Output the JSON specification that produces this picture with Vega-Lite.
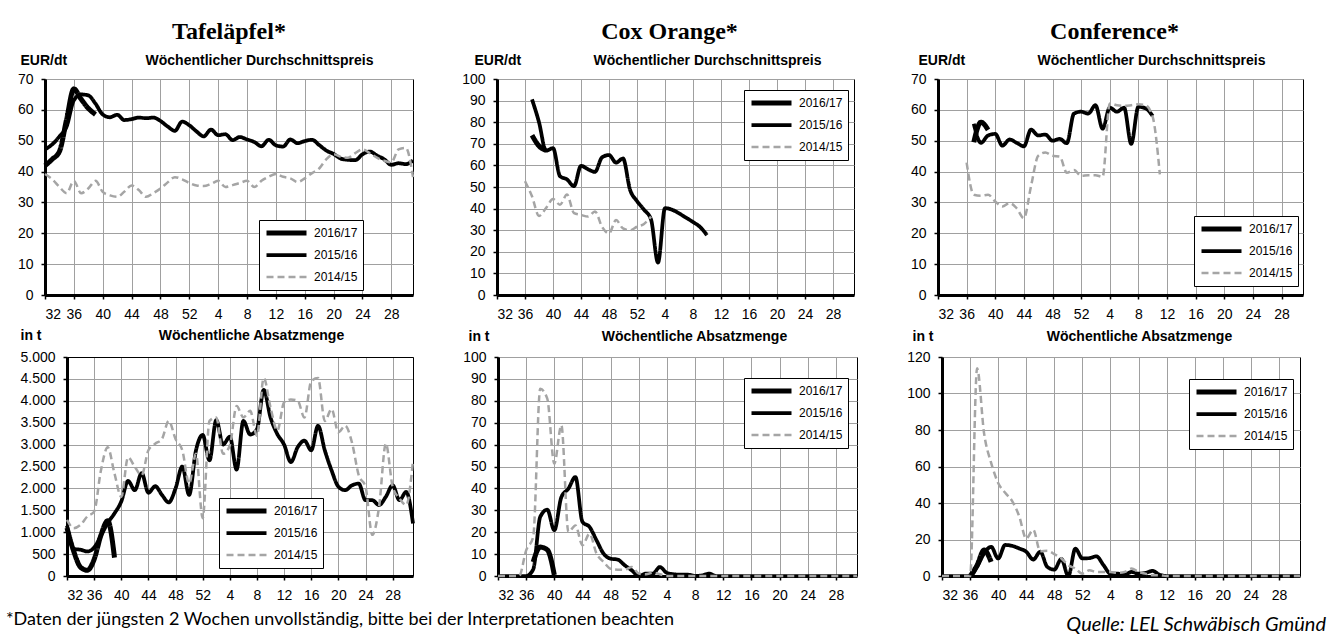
{
"$schema": "https://vega.github.io/schema/vega-lite/v6.json",
"padding": {"left": 5, "top": 19, "right": 5, "bottom": 5},
"background": "white",
"spacing": 6,
"title": {"text": "*Daten der jüngsten 2 Wochen unvollständig, bitte bei der Interpretationen beachten", "orient": "bottom", "anchor": "start", "frame": "bounds", "dx": -11, "offset": 0, "dy": -25, "font": "Lato", "fontSize": 18, "fontWeight": "normal", "color": "black"},
"resolve": {"scale": {"color": "independent", "strokeWidth": "independent", "strokeDash": "independent"}, "legend": {"color": "independent", "strokeWidth": "independent", "strokeDash": "independent"}},
"config": {
 "font": "Liberation Sans",
 "view": {"stroke": "black", "strokeWidth": 1},
 "axis": {"labelFont": "Liberation Sans", "labelFontSize": 14, "labelColor": "black", "labelPadding": 8, "gridColor": "#a0a0a0", "gridWidth": 1, "gridOpacity": 1, "domainColor": "black", "domainWidth": 3, "tickColor": "black", "tickSize": 4, "tickWidth": 1.5, "titleFont": "Liberation Sans", "titleFontSize": 14, "titleFontWeight": "bold", "titleColor": "black"},
 "legend": {"strokeColor": "black", "strokeWidth": 1, "fillColor": "white", "padding": 5, "labelFont": "Liberation Sans", "labelFontSize": 12, "labelColor": "black", "symbolType": "stroke", "symbolSize": 1600, "labelOffset": 5, "rowPadding": 6, "clipHeight": 16},
 "title": {"font": "Liberation Serif", "fontSize": 24, "fontWeight": "bold", "color": "black", "anchor": "middle", "frame": "group", "offset": 9}
},
"datasets": {
 "tafel_preis": [
  {"saison":"2016/17","woche":0,"wert":41.9},{"saison":"2016/17","woche":1,"wert":44},{"saison":"2016/17","woche":2,"wert":46.5},{"saison":"2016/17","woche":3,"wert":57},{"saison":"2016/17","woche":4,"wert":66.8},{"saison":"2016/17","woche":5,"wert":63.5},{"saison":"2016/17","woche":6,"wert":60.5},{"saison":"2016/17","woche":7,"wert":58.5},
  {"saison":"2015/16","woche":0,"wert":47.2},{"saison":"2015/16","woche":1,"wert":48.8},{"saison":"2015/16","woche":2,"wert":51.4},{"saison":"2015/16","woche":3,"wert":54.6},{"saison":"2015/16","woche":4,"wert":63.1},{"saison":"2015/16","woche":5,"wert":65},{"saison":"2015/16","woche":6,"wert":64.7},{"saison":"2015/16","woche":7,"wert":62},{"saison":"2015/16","woche":8,"wert":58.5},{"saison":"2015/16","woche":9,"wert":57.6},{"saison":"2015/16","woche":10,"wert":58.4},{"saison":"2015/16","woche":11,"wert":56.7},{"saison":"2015/16","woche":12,"wert":57},{"saison":"2015/16","woche":13,"wert":57.5},{"saison":"2015/16","woche":14,"wert":57.3},{"saison":"2015/16","woche":15,"wert":57.5},{"saison":"2015/16","woche":16,"wert":56.4},{"saison":"2015/16","woche":17,"wert":54.6},{"saison":"2015/16","woche":18,"wert":53.2},{"saison":"2015/16","woche":19,"wert":56.2},{"saison":"2015/16","woche":20,"wert":55},{"saison":"2015/16","woche":21,"wert":53},{"saison":"2015/16","woche":22,"wert":51.4},{"saison":"2015/16","woche":23,"wert":53.6},{"saison":"2015/16","woche":24,"wert":51.8},{"saison":"2015/16","woche":25,"wert":52.1},{"saison":"2015/16","woche":26,"wert":50.2},{"saison":"2015/16","woche":27,"wert":51.2},{"saison":"2015/16","woche":28,"wert":50.4},{"saison":"2015/16","woche":29,"wert":49.6},{"saison":"2015/16","woche":30,"wert":48.2},{"saison":"2015/16","woche":31,"wert":50.3},{"saison":"2015/16","woche":32,"wert":48.5},{"saison":"2015/16","woche":33,"wert":48.1},{"saison":"2015/16","woche":34,"wert":50.4},{"saison":"2015/16","woche":35,"wert":49.2},{"saison":"2015/16","woche":36,"wert":49.9},{"saison":"2015/16","woche":37,"wert":50.3},{"saison":"2015/16","woche":38,"wert":48.6},{"saison":"2015/16","woche":39,"wert":46.8},{"saison":"2015/16","woche":40,"wert":45.7},{"saison":"2015/16","woche":41,"wert":44.2},{"saison":"2015/16","woche":42,"wert":43.8},{"saison":"2015/16","woche":43,"wert":43.7},{"saison":"2015/16","woche":44,"wert":45.6},{"saison":"2015/16","woche":45,"wert":46.5},{"saison":"2015/16","woche":46,"wert":45.2},{"saison":"2015/16","woche":47,"wert":44},{"saison":"2015/16","woche":48,"wert":42.2},{"saison":"2015/16","woche":49,"wert":42.7},{"saison":"2015/16","woche":50,"wert":42.4},{"saison":"2015/16","woche":51,"wert":43.6},
  {"saison":"2014/15","woche":0,"wert":39.2},{"saison":"2014/15","woche":1,"wert":37.5},{"saison":"2014/15","woche":2,"wert":35},{"saison":"2014/15","woche":3,"wert":33},{"saison":"2014/15","woche":4,"wert":37},{"saison":"2014/15","woche":5,"wert":33},{"saison":"2014/15","woche":6,"wert":34.5},{"saison":"2014/15","woche":7,"wert":37},{"saison":"2014/15","woche":8,"wert":33.4},{"saison":"2014/15","woche":9,"wert":32.3},{"saison":"2014/15","woche":10,"wert":31.8},{"saison":"2014/15","woche":11,"wert":33.5},{"saison":"2014/15","woche":12,"wert":35.5},{"saison":"2014/15","woche":13,"wert":34},{"saison":"2014/15","woche":14,"wert":31.8},{"saison":"2014/15","woche":15,"wert":33},{"saison":"2014/15","woche":16,"wert":34.5},{"saison":"2014/15","woche":17,"wert":36.5},{"saison":"2014/15","woche":18,"wert":38.2},{"saison":"2014/15","woche":19,"wert":37.5},{"saison":"2014/15","woche":20,"wert":36.3},{"saison":"2014/15","woche":21,"wert":35.5},{"saison":"2014/15","woche":22,"wert":35.3},{"saison":"2014/15","woche":23,"wert":36},{"saison":"2014/15","woche":24,"wert":37},{"saison":"2014/15","woche":25,"wert":35},{"saison":"2014/15","woche":26,"wert":35.6},{"saison":"2014/15","woche":27,"wert":36.3},{"saison":"2014/15","woche":28,"wert":37},{"saison":"2014/15","woche":29,"wert":35},{"saison":"2014/15","woche":30,"wert":37},{"saison":"2014/15","woche":31,"wert":38.3},{"saison":"2014/15","woche":32,"wert":39.2},{"saison":"2014/15","woche":33,"wert":38.3},{"saison":"2014/15","woche":34,"wert":37.8},{"saison":"2014/15","woche":35,"wert":36.6},{"saison":"2014/15","woche":36,"wert":37.8},{"saison":"2014/15","woche":37,"wert":39.5},{"saison":"2014/15","woche":38,"wert":41},{"saison":"2014/15","woche":39,"wert":44},{"saison":"2014/15","woche":40,"wert":45.6},{"saison":"2014/15","woche":41,"wert":44.8},{"saison":"2014/15","woche":42,"wert":44.5},{"saison":"2014/15","woche":43,"wert":46},{"saison":"2014/15","woche":44,"wert":47.2},{"saison":"2014/15","woche":45,"wert":46},{"saison":"2014/15","woche":46,"wert":44.5},{"saison":"2014/15","woche":47,"wert":43.5},{"saison":"2014/15","woche":48,"wert":43},{"saison":"2014/15","woche":49,"wert":47.2},{"saison":"2014/15","woche":50,"wert":47.7},{"saison":"2014/15","woche":51,"wert":38.2}
 ],
 "cox_preis": [
  {"saison":"2016/17","woche":5,"wert":74},{"saison":"2016/17","woche":6,"wert":69},{"saison":"2016/17","woche":7,"wert":67},
  {"saison":"2015/16","woche":5,"wert":90.6},{"saison":"2015/16","woche":6,"wert":80},{"saison":"2015/16","woche":7,"wert":66.8},{"saison":"2015/16","woche":8,"wert":68},{"saison":"2015/16","woche":9,"wert":55},{"saison":"2015/16","woche":10,"wert":53.5},{"saison":"2015/16","woche":11,"wert":50.4},{"saison":"2015/16","woche":12,"wert":59.8},{"saison":"2015/16","woche":13,"wert":58.2},{"saison":"2015/16","woche":14,"wert":57},{"saison":"2015/16","woche":15,"wert":63.7},{"saison":"2015/16","woche":16,"wert":64.8},{"saison":"2015/16","woche":17,"wert":61.3},{"saison":"2015/16","woche":18,"wert":63.2},{"saison":"2015/16","woche":19,"wert":48.8},{"saison":"2015/16","woche":20,"wert":43.5},{"saison":"2015/16","woche":21,"wert":39.5},{"saison":"2015/16","woche":22,"wert":35},{"saison":"2015/16","woche":23,"wert":15},{"saison":"2015/16","woche":24,"wert":40.2},{"saison":"2015/16","woche":25,"wert":39.5},{"saison":"2015/16","woche":26,"wert":37.8},{"saison":"2015/16","woche":27,"wert":35.8},{"saison":"2015/16","woche":28,"wert":33.8},{"saison":"2015/16","woche":29,"wert":31.5},{"saison":"2015/16","woche":30,"wert":27.7},
  {"saison":"2014/15","woche":4,"wert":52.7},{"saison":"2014/15","woche":5,"wert":45.7},{"saison":"2014/15","woche":6,"wert":36.6},{"saison":"2014/15","woche":7,"wert":40.2},{"saison":"2014/15","woche":8,"wert":44.4},{"saison":"2014/15","woche":9,"wert":41.8},{"saison":"2014/15","woche":10,"wert":46.5},{"saison":"2014/15","woche":11,"wert":37.9},{"saison":"2014/15","woche":12,"wert":37.1},{"saison":"2014/15","woche":13,"wert":36.3},{"saison":"2014/15","woche":14,"wert":38.7},{"saison":"2014/15","woche":15,"wert":31.6},{"saison":"2014/15","woche":16,"wert":28.5},{"saison":"2014/15","woche":17,"wert":34.7},{"saison":"2014/15","woche":18,"wert":30.8},{"saison":"2014/15","woche":19,"wert":30},{"saison":"2014/15","woche":20,"wert":31.6},{"saison":"2014/15","woche":21,"wert":32.9},{"saison":"2014/15","woche":22,"wert":36.3}
 ],
 "conf_preis": [
  {"saison":"2016/17","woche":5,"wert":49.5},{"saison":"2016/17","woche":6,"wert":56},{"saison":"2016/17","woche":7,"wert":53.5},
  {"saison":"2015/16","woche":5,"wert":55.5},{"saison":"2015/16","woche":6,"wert":49.3},{"saison":"2015/16","woche":7,"wert":51.7},{"saison":"2015/16","woche":8,"wert":52.2},{"saison":"2015/16","woche":9,"wert":48.4},{"saison":"2015/16","woche":10,"wert":50.4},{"saison":"2015/16","woche":11,"wert":49.3},{"saison":"2015/16","woche":12,"wert":48.2},{"saison":"2015/16","woche":13,"wert":53.6},{"saison":"2015/16","woche":14,"wert":51.7},{"saison":"2015/16","woche":15,"wert":52},{"saison":"2015/16","woche":16,"wert":50},{"saison":"2015/16","woche":17,"wert":50.6},{"saison":"2015/16","woche":18,"wert":49.2},{"saison":"2015/16","woche":19,"wert":58.8},{"saison":"2015/16","woche":20,"wert":59.4},{"saison":"2015/16","woche":21,"wert":58.8},{"saison":"2015/16","woche":22,"wert":61.5},{"saison":"2015/16","woche":23,"wert":53.9},{"saison":"2015/16","woche":24,"wert":60.7},{"saison":"2015/16","woche":25,"wert":59.4},{"saison":"2015/16","woche":26,"wert":60.7},{"saison":"2015/16","woche":27,"wert":49},{"saison":"2015/16","woche":28,"wert":61},{"saison":"2015/16","woche":29,"wert":60.5},{"saison":"2015/16","woche":30,"wert":58},
  {"saison":"2014/15","woche":4,"wert":42.9},{"saison":"2014/15","woche":5,"wert":32.5},{"saison":"2014/15","woche":6,"wert":32.2},{"saison":"2014/15","woche":7,"wert":32.5},{"saison":"2014/15","woche":8,"wert":30.3},{"saison":"2014/15","woche":9,"wert":28.7},{"saison":"2014/15","woche":10,"wert":29.8},{"saison":"2014/15","woche":11,"wert":28.1},{"saison":"2014/15","woche":12,"wert":24.9},{"saison":"2014/15","woche":13,"wert":35.3},{"saison":"2014/15","woche":14,"wert":45.1},{"saison":"2014/15","woche":15,"wert":46.2},{"saison":"2014/15","woche":16,"wert":45.1},{"saison":"2014/15","woche":17,"wert":44.9},{"saison":"2014/15","woche":18,"wert":39.6},{"saison":"2014/15","woche":19,"wert":40.5},{"saison":"2014/15","woche":20,"wert":38.6},{"saison":"2014/15","woche":21,"wert":38.8},{"saison":"2014/15","woche":22,"wert":38.8},{"saison":"2014/15","woche":23,"wert":38.3},{"saison":"2014/15","woche":24,"wert":62.1},{"saison":"2014/15","woche":25,"wert":61.5},{"saison":"2014/15","woche":26,"wert":61.3},{"saison":"2014/15","woche":27,"wert":61.5},{"saison":"2014/15","woche":28,"wert":61.8},{"saison":"2014/15","woche":29,"wert":61.5},{"saison":"2014/15","woche":30,"wert":57.7},{"saison":"2014/15","woche":31,"wert":39.1}
 ],
 "tafel_menge": [
  {"saison":"2016/17","woche":0,"wert":1100},{"saison":"2016/17","woche":1,"wert":560},{"saison":"2016/17","woche":2,"wert":200},{"saison":"2016/17","woche":3,"wert":130},{"saison":"2016/17","woche":4,"wert":380},{"saison":"2016/17","woche":5,"wert":930},{"saison":"2016/17","woche":6,"wert":1260},{"saison":"2016/17","woche":7,"wert":420},
  {"saison":"2015/16","woche":0,"wert":1150},{"saison":"2015/16","woche":1,"wert":620},{"saison":"2015/16","woche":2,"wert":600},{"saison":"2015/16","woche":3,"wert":560},{"saison":"2015/16","woche":4,"wert":650},{"saison":"2015/16","woche":5,"wert":920},{"saison":"2015/16","woche":6,"wert":1210},{"saison":"2015/16","woche":7,"wert":1430},{"saison":"2015/16","woche":8,"wert":1700},{"saison":"2015/16","woche":9,"wert":2170},{"saison":"2015/16","woche":10,"wert":1960},{"saison":"2015/16","woche":11,"wert":2350},{"saison":"2015/16","woche":12,"wert":1900},{"saison":"2015/16","woche":13,"wert":2050},{"saison":"2015/16","woche":14,"wert":1850},{"saison":"2015/16","woche":15,"wert":1680},{"saison":"2015/16","woche":16,"wert":2000},{"saison":"2015/16","woche":17,"wert":2500},{"saison":"2015/16","woche":18,"wert":1850},{"saison":"2015/16","woche":19,"wert":2860},{"saison":"2015/16","woche":20,"wert":3220},{"saison":"2015/16","woche":21,"wert":2640},{"saison":"2015/16","woche":22,"wert":3560},{"saison":"2015/16","woche":23,"wert":3000},{"saison":"2015/16","woche":24,"wert":3180},{"saison":"2015/16","woche":25,"wert":2430},{"saison":"2015/16","woche":26,"wert":3540},{"saison":"2015/16","woche":27,"wert":3230},{"saison":"2015/16","woche":28,"wert":3350},{"saison":"2015/16","woche":29,"wert":4250},{"saison":"2015/16","woche":30,"wert":3620},{"saison":"2015/16","woche":31,"wert":3240},{"saison":"2015/16","woche":32,"wert":3000},{"saison":"2015/16","woche":33,"wert":2600},{"saison":"2015/16","woche":34,"wert":2940},{"saison":"2015/16","woche":35,"wert":3090},{"saison":"2015/16","woche":36,"wert":2870},{"saison":"2015/16","woche":37,"wert":3430},{"saison":"2015/16","woche":38,"wert":2870},{"saison":"2015/16","woche":39,"wert":2410},{"saison":"2015/16","woche":40,"wert":2040},{"saison":"2015/16","woche":41,"wert":1960},{"saison":"2015/16","woche":42,"wert":2070},{"saison":"2015/16","woche":43,"wert":2110},{"saison":"2015/16","woche":44,"wert":1730},{"saison":"2015/16","woche":45,"wert":1730},{"saison":"2015/16","woche":46,"wert":1620},{"saison":"2015/16","woche":47,"wert":1810},{"saison":"2015/16","woche":48,"wert":2070},{"saison":"2015/16","woche":49,"wert":1730},{"saison":"2015/16","woche":50,"wert":1920},{"saison":"2015/16","woche":51,"wert":1200},
  {"saison":"2014/15","woche":0,"wert":1280},{"saison":"2014/15","woche":1,"wert":1090},{"saison":"2014/15","woche":2,"wert":1170},{"saison":"2014/15","woche":3,"wert":1360},{"saison":"2014/15","woche":4,"wert":1470},{"saison":"2014/15","woche":5,"wert":2410},{"saison":"2014/15","woche":6,"wert":2940},{"saison":"2014/15","woche":7,"wert":2340},{"saison":"2014/15","woche":8,"wert":1810},{"saison":"2014/15","woche":9,"wert":2710},{"saison":"2014/15","woche":10,"wert":2490},{"saison":"2014/15","woche":11,"wert":2300},{"saison":"2014/15","woche":12,"wert":2870},{"saison":"2014/15","woche":13,"wert":3020},{"saison":"2014/15","woche":14,"wert":3130},{"saison":"2014/15","woche":15,"wert":3540},{"saison":"2014/15","woche":16,"wert":3130},{"saison":"2014/15","woche":17,"wert":2870},{"saison":"2014/15","woche":18,"wert":2110},{"saison":"2014/15","woche":19,"wert":2790},{"saison":"2014/15","woche":20,"wert":1320},{"saison":"2014/15","woche":21,"wert":3540},{"saison":"2014/15","woche":22,"wert":3620},{"saison":"2014/15","woche":23,"wert":2790},{"saison":"2014/15","woche":24,"wert":2980},{"saison":"2014/15","woche":25,"wert":3880},{"saison":"2014/15","woche":26,"wert":3620},{"saison":"2014/15","woche":27,"wert":3770},{"saison":"2014/15","woche":28,"wert":3200},{"saison":"2014/15","woche":29,"wert":4520},{"saison":"2014/15","woche":30,"wert":3850},{"saison":"2014/15","woche":31,"wert":3320},{"saison":"2014/15","woche":32,"wert":3960},{"saison":"2014/15","woche":33,"wert":4030},{"saison":"2014/15","woche":34,"wert":4000},{"saison":"2014/15","woche":35,"wert":3620},{"saison":"2014/15","woche":36,"wert":4450},{"saison":"2014/15","woche":37,"wert":4520},{"saison":"2014/15","woche":38,"wert":3540},{"saison":"2014/15","woche":39,"wert":3810},{"saison":"2014/15","woche":40,"wert":3280},{"saison":"2014/15","woche":41,"wert":3430},{"saison":"2014/15","woche":42,"wert":3050},{"saison":"2014/15","woche":43,"wert":2300},{"saison":"2014/15","woche":44,"wert":2040},{"saison":"2014/15","woche":45,"wert":940},{"saison":"2014/15","woche":46,"wert":1580},{"saison":"2014/15","woche":47,"wert":3020},{"saison":"2014/15","woche":48,"wert":2040},{"saison":"2014/15","woche":49,"wert":1770},{"saison":"2014/15","woche":50,"wert":1620},{"saison":"2014/15","woche":51,"wert":2640}
 ],
 "cox_menge": [
  {"saison":"2016/17","woche":5,"wert":6.4},{"saison":"2016/17","woche":6,"wert":13.2},{"saison":"2016/17","woche":7,"wert":12},{"saison":"2016/17","woche":8,"wert":0.5},
  {"saison":"2015/16","woche":0,"wert":0},{"saison":"2015/16","woche":1,"wert":0},{"saison":"2015/16","woche":2,"wert":0},{"saison":"2015/16","woche":3,"wert":0},{"saison":"2015/16","woche":4,"wert":0},{"saison":"2015/16","woche":5,"wert":3},{"saison":"2015/16","woche":6,"wert":27},{"saison":"2015/16","woche":7,"wert":30.3},{"saison":"2015/16","woche":8,"wert":20.9},{"saison":"2015/16","woche":9,"wert":36},{"saison":"2015/16","woche":10,"wert":39.9},{"saison":"2015/16","woche":11,"wert":45.2},{"saison":"2015/16","woche":12,"wert":24.7},{"saison":"2015/16","woche":13,"wert":22.4},{"saison":"2015/16","woche":14,"wert":16.3},{"saison":"2015/16","woche":15,"wert":10.2},{"saison":"2015/16","woche":16,"wert":7.9},{"saison":"2015/16","woche":17,"wert":7.5},{"saison":"2015/16","woche":18,"wert":4.9},{"saison":"2015/16","woche":19,"wert":2.6},{"saison":"2015/16","woche":20,"wert":0},{"saison":"2015/16","woche":21,"wert":1.1},{"saison":"2015/16","woche":22,"wert":1.1},{"saison":"2015/16","woche":23,"wert":4.1},{"saison":"2015/16","woche":24,"wert":1.4},{"saison":"2015/16","woche":25,"wert":0.8},{"saison":"2015/16","woche":26,"wert":0.6},{"saison":"2015/16","woche":27,"wert":0.6},{"saison":"2015/16","woche":28,"wert":0},{"saison":"2015/16","woche":29,"wert":0.3},{"saison":"2015/16","woche":30,"wert":1.1},{"saison":"2015/16","woche":31,"wert":0},{"saison":"2015/16","woche":32,"wert":0},{"saison":"2015/16","woche":33,"wert":0},{"saison":"2015/16","woche":34,"wert":0},{"saison":"2015/16","woche":35,"wert":0},{"saison":"2015/16","woche":36,"wert":0},{"saison":"2015/16","woche":37,"wert":0},{"saison":"2015/16","woche":38,"wert":0},{"saison":"2015/16","woche":39,"wert":0},{"saison":"2015/16","woche":40,"wert":0},{"saison":"2015/16","woche":41,"wert":0},{"saison":"2015/16","woche":42,"wert":0},{"saison":"2015/16","woche":43,"wert":0},{"saison":"2015/16","woche":44,"wert":0},{"saison":"2015/16","woche":45,"wert":0},{"saison":"2015/16","woche":46,"wert":0},{"saison":"2015/16","woche":47,"wert":0},{"saison":"2015/16","woche":48,"wert":0},{"saison":"2015/16","woche":49,"wert":0},{"saison":"2015/16","woche":50,"wert":0},{"saison":"2015/16","woche":51,"wert":0},
  {"saison":"2014/15","woche":0,"wert":0},{"saison":"2014/15","woche":1,"wert":0},{"saison":"2014/15","woche":2,"wert":0},{"saison":"2014/15","woche":3,"wert":0},{"saison":"2014/15","woche":4,"wert":11.7},{"saison":"2014/15","woche":5,"wert":17.8},{"saison":"2014/15","woche":6,"wert":85.5},{"saison":"2014/15","woche":7,"wert":81},{"saison":"2014/15","woche":8,"wert":51.3},{"saison":"2014/15","woche":9,"wert":68.8},{"saison":"2014/15","woche":10,"wert":20.1},{"saison":"2014/15","woche":11,"wert":23.1},{"saison":"2014/15","woche":12,"wert":14},{"saison":"2014/15","woche":13,"wert":19.3},{"saison":"2014/15","woche":14,"wert":10.2},{"saison":"2014/15","woche":15,"wert":6.4},{"saison":"2014/15","woche":16,"wert":3.3},{"saison":"2014/15","woche":17,"wert":2.9},{"saison":"2014/15","woche":18,"wert":2.9},{"saison":"2014/15","woche":19,"wert":4.1},{"saison":"2014/15","woche":20,"wert":1.1},{"saison":"2014/15","woche":21,"wert":0.8},{"saison":"2014/15","woche":22,"wert":1.5},{"saison":"2014/15","woche":23,"wert":0.8},{"saison":"2014/15","woche":24,"wert":0},{"saison":"2014/15","woche":25,"wert":0},{"saison":"2014/15","woche":26,"wert":0},{"saison":"2014/15","woche":27,"wert":0},{"saison":"2014/15","woche":28,"wert":0},{"saison":"2014/15","woche":29,"wert":0},{"saison":"2014/15","woche":30,"wert":0},{"saison":"2014/15","woche":31,"wert":0},{"saison":"2014/15","woche":32,"wert":0},{"saison":"2014/15","woche":33,"wert":0},{"saison":"2014/15","woche":34,"wert":0},{"saison":"2014/15","woche":35,"wert":0},{"saison":"2014/15","woche":36,"wert":0},{"saison":"2014/15","woche":37,"wert":0},{"saison":"2014/15","woche":38,"wert":0},{"saison":"2014/15","woche":39,"wert":0},{"saison":"2014/15","woche":40,"wert":0},{"saison":"2014/15","woche":41,"wert":0},{"saison":"2014/15","woche":42,"wert":0},{"saison":"2014/15","woche":43,"wert":0},{"saison":"2014/15","woche":44,"wert":0},{"saison":"2014/15","woche":45,"wert":0},{"saison":"2014/15","woche":46,"wert":0},{"saison":"2014/15","woche":47,"wert":0},{"saison":"2014/15","woche":48,"wert":0},{"saison":"2014/15","woche":49,"wert":0},{"saison":"2014/15","woche":50,"wert":0},{"saison":"2014/15","woche":51,"wert":0}
 ],
 "conf_menge": [
  {"saison":"2016/17","woche":4,"wert":0},{"saison":"2016/17","woche":5,"wert":5.9},{"saison":"2016/17","woche":6,"wert":14.2},{"saison":"2016/17","woche":7,"wert":7.7},
  {"saison":"2015/16","woche":0,"wert":0},{"saison":"2015/16","woche":1,"wert":0},{"saison":"2015/16","woche":2,"wert":0},{"saison":"2015/16","woche":3,"wert":0},{"saison":"2015/16","woche":4,"wert":0},{"saison":"2015/16","woche":5,"wert":5},{"saison":"2015/16","woche":6,"wert":12.4},{"saison":"2015/16","woche":7,"wert":16},{"saison":"2015/16","woche":8,"wert":9.6},{"saison":"2015/16","woche":9,"wert":17},{"saison":"2015/16","woche":10,"wert":16.5},{"saison":"2015/16","woche":11,"wert":15.1},{"saison":"2015/16","woche":12,"wert":13.3},{"saison":"2015/16","woche":13,"wert":9},{"saison":"2015/16","woche":14,"wert":13.3},{"saison":"2015/16","woche":15,"wert":5},{"saison":"2015/16","woche":16,"wert":3.5},{"saison":"2015/16","woche":17,"wert":9.3},{"saison":"2015/16","woche":18,"wert":0},{"saison":"2015/16","woche":19,"wert":15},{"saison":"2015/16","woche":20,"wert":9.6},{"saison":"2015/16","woche":21,"wert":9.8},{"saison":"2015/16","woche":22,"wert":10.8},{"saison":"2015/16","woche":23,"wert":6},{"saison":"2015/16","woche":24,"wert":1.3},{"saison":"2015/16","woche":25,"wert":1.3},{"saison":"2015/16","woche":26,"wert":0.7},{"saison":"2015/16","woche":27,"wert":2.2},{"saison":"2015/16","woche":28,"wert":1.3},{"saison":"2015/16","woche":29,"wert":1.7},{"saison":"2015/16","woche":30,"wert":2.8},{"saison":"2015/16","woche":31,"wert":0.7},{"saison":"2015/16","woche":32,"wert":0},{"saison":"2015/16","woche":33,"wert":0},{"saison":"2015/16","woche":34,"wert":0},{"saison":"2015/16","woche":35,"wert":0},{"saison":"2015/16","woche":36,"wert":0},{"saison":"2015/16","woche":37,"wert":0},{"saison":"2015/16","woche":38,"wert":0},{"saison":"2015/16","woche":39,"wert":0},{"saison":"2015/16","woche":40,"wert":0},{"saison":"2015/16","woche":41,"wert":0},{"saison":"2015/16","woche":42,"wert":0},{"saison":"2015/16","woche":43,"wert":0},{"saison":"2015/16","woche":44,"wert":0},{"saison":"2015/16","woche":45,"wert":0},{"saison":"2015/16","woche":46,"wert":0},{"saison":"2015/16","woche":47,"wert":0},{"saison":"2015/16","woche":48,"wert":0},{"saison":"2015/16","woche":49,"wert":0},{"saison":"2015/16","woche":50,"wert":0},{"saison":"2015/16","woche":51,"wert":0},
  {"saison":"2014/15","woche":0,"wert":0},{"saison":"2014/15","woche":1,"wert":0},{"saison":"2014/15","woche":2,"wert":0},{"saison":"2014/15","woche":3,"wert":0},{"saison":"2014/15","woche":4,"wert":0},{"saison":"2014/15","woche":5,"wert":113.8},{"saison":"2014/15","woche":6,"wert":78},{"saison":"2014/15","woche":7,"wert":62},{"saison":"2014/15","woche":8,"wert":51},{"saison":"2014/15","woche":9,"wert":45.6},{"saison":"2014/15","woche":10,"wert":41},{"saison":"2014/15","woche":11,"wert":32.7},{"saison":"2014/15","woche":12,"wert":20.5},{"saison":"2014/15","woche":13,"wert":25.3},{"saison":"2014/15","woche":14,"wert":13.5},{"saison":"2014/15","woche":15,"wert":13.8},{"saison":"2014/15","woche":16,"wert":12},{"saison":"2014/15","woche":17,"wert":9.6},{"saison":"2014/15","woche":18,"wert":5.9},{"saison":"2014/15","woche":19,"wert":4.1},{"saison":"2014/15","woche":20,"wert":1.3},{"saison":"2014/15","woche":21,"wert":3.1},{"saison":"2014/15","woche":22,"wert":2.2},{"saison":"2014/15","woche":23,"wert":2.2},{"saison":"2014/15","woche":24,"wert":2.2},{"saison":"2014/15","woche":25,"wert":1.7},{"saison":"2014/15","woche":26,"wert":2.2},{"saison":"2014/15","woche":27,"wert":4.1},{"saison":"2014/15","woche":28,"wert":2.2},{"saison":"2014/15","woche":29,"wert":1.3},{"saison":"2014/15","woche":30,"wert":0.4},{"saison":"2014/15","woche":31,"wert":0.4},{"saison":"2014/15","woche":32,"wert":0},{"saison":"2014/15","woche":33,"wert":0},{"saison":"2014/15","woche":34,"wert":0},{"saison":"2014/15","woche":35,"wert":0},{"saison":"2014/15","woche":36,"wert":0},{"saison":"2014/15","woche":37,"wert":0},{"saison":"2014/15","woche":38,"wert":0},{"saison":"2014/15","woche":39,"wert":0},{"saison":"2014/15","woche":40,"wert":0},{"saison":"2014/15","woche":41,"wert":0},{"saison":"2014/15","woche":42,"wert":0},{"saison":"2014/15","woche":43,"wert":0},{"saison":"2014/15","woche":44,"wert":0},{"saison":"2014/15","woche":45,"wert":0},{"saison":"2014/15","woche":46,"wert":0},{"saison":"2014/15","woche":47,"wert":0},{"saison":"2014/15","woche":48,"wert":0},{"saison":"2014/15","woche":49,"wert":0},{"saison":"2014/15","woche":50,"wert":0},{"saison":"2014/15","woche":51,"wert":0}
 ]
},
"vconcat": [
 {"bounds": "flush", "spacing": 84,
  "resolve": {"scale": {"color": "independent", "strokeWidth": "independent", "strokeDash": "independent"}, "legend": {"color": "independent", "strokeWidth": "independent", "strokeDash": "independent"}},
  "hconcat": [
  {"width": 368, "height": 216, "data": {"name": "tafel_preis"},
   "title": {"text": "Tafeläpfel*"},
   "mark": {"type": "line", "interpolate": "monotone"},
   "encoding": {
    "x": {"field": "woche", "type": "quantitative", "scale": {"domain": [0, 51], "nice": false, "zero": false}, "axis": {"values": [0,4,8,12,16,20,24,28,32,36,40,44,48], "labelExpr": "datum.value <= 20 ? datum.value + 32 : datum.value - 20", "title": "Wöchentlicher Durchschnittspreis", "titleX": 214, "titleY": -231, "titleAlign": "center", "titleBaseline": "alphabetic"}},
    "y": {"field": "wert", "type": "quantitative", "scale": {"domain": [0, 70], "nice": false}, "axis": {"values": [0,10,20,30,40,50,60,70], "title": "EUR/dt", "titleAngle": 0, "titleX": -25, "titleY": -15, "titleAlign": "left", "titleBaseline": "alphabetic"}},
    "color": {"field": "saison", "type": "nominal", "scale": {"domain": ["2016/17","2015/16","2014/15"], "range": ["black","black","#a5a5a5"]}, "legend": {"title": null, "orient": "none", "legendX": 214, "legendY": 141}},
    "strokeWidth": {"field": "saison", "type": "nominal", "scale": {"domain": ["2016/17","2015/16","2014/15"], "range": [5, 2.5, 2.5]}, "legend": {"title": null, "orient": "none", "legendX": 214, "legendY": 141}},
    "strokeDash": {"field": "saison", "type": "nominal", "scale": {"domain": ["2016/17","2015/16","2014/15"], "range": [[1,0],[1,0],[7,4]]}, "legend": {"title": null, "orient": "none", "legendX": 214, "legendY": 141}}
   }},
  {"width": 357, "height": 216, "data": {"name": "cox_preis"},
   "title": {"text": "Cox Orange*", "dx": -6},
   "mark": {"type": "line", "interpolate": "monotone"},
   "encoding": {
    "x": {"field": "woche", "type": "quantitative", "scale": {"domain": [0, 51], "nice": false, "zero": false}, "axis": {"values": [0,4,8,12,16,20,24,28,32,36,40,44,48], "labelExpr": "datum.value <= 20 ? datum.value + 32 : datum.value - 20", "title": "Wöchentlicher Durchschnittspreis", "titleX": 210, "titleY": -231, "titleAlign": "center", "titleBaseline": "alphabetic"}},
    "y": {"field": "wert", "type": "quantitative", "scale": {"domain": [0, 100], "nice": false}, "axis": {"values": [0,10,20,30,40,50,60,70,80,90,100], "title": "EUR/dt", "titleAngle": 0, "titleX": -23, "titleY": -15, "titleAlign": "left", "titleBaseline": "alphabetic"}},
    "color": {"field": "saison", "type": "nominal", "scale": {"domain": ["2016/17","2015/16","2014/15"], "range": ["black","black","#a5a5a5"]}, "legend": {"title": null, "orient": "none", "legendX": 247, "legendY": 11}},
    "strokeWidth": {"field": "saison", "type": "nominal", "scale": {"domain": ["2016/17","2015/16","2014/15"], "range": [5, 2.5, 2.5]}, "legend": {"title": null, "orient": "none", "legendX": 247, "legendY": 11}},
    "strokeDash": {"field": "saison", "type": "nominal", "scale": {"domain": ["2016/17","2015/16","2014/15"], "range": [[1,0],[1,0],[7,4]]}, "legend": {"title": null, "orient": "none", "legendX": 247, "legendY": 11}}
   }},
  {"width": 365, "height": 216, "data": {"name": "conf_preis"},
   "title": {"text": "Conference*", "dx": -6},
   "mark": {"type": "line", "interpolate": "monotone"},
   "encoding": {
    "x": {"field": "woche", "type": "quantitative", "scale": {"domain": [0, 51], "nice": false, "zero": false}, "axis": {"values": [0,4,8,12,16,20,24,28,32,36,40,44,48], "labelExpr": "datum.value <= 20 ? datum.value + 32 : datum.value - 20", "title": "Wöchentlicher Durchschnittspreis", "titleX": 213, "titleY": -231, "titleAlign": "center", "titleBaseline": "alphabetic"}},
    "y": {"field": "wert", "type": "quantitative", "scale": {"domain": [0, 70], "nice": false}, "axis": {"values": [0,10,20,30,40,50,60,70], "title": "EUR/dt", "titleAngle": 0, "titleX": -20, "titleY": -15, "titleAlign": "left", "titleBaseline": "alphabetic"}},
    "color": {"field": "saison", "type": "nominal", "scale": {"domain": ["2016/17","2015/16","2014/15"], "range": ["black","black","#a5a5a5"]}, "legend": {"title": null, "orient": "none", "legendX": 256, "legendY": 137}},
    "strokeWidth": {"field": "saison", "type": "nominal", "scale": {"domain": ["2016/17","2015/16","2014/15"], "range": [5, 2.5, 2.5]}, "legend": {"title": null, "orient": "none", "legendX": 256, "legendY": 137}},
    "strokeDash": {"field": "saison", "type": "nominal", "scale": {"domain": ["2016/17","2015/16","2014/15"], "range": [[1,0],[1,0],[7,4]]}, "legend": {"title": null, "orient": "none", "legendX": 256, "legendY": 137}}
   }}
 ]},
 {"bounds": "flush", "spacing": 85,
  "resolve": {"scale": {"color": "independent", "strokeWidth": "independent", "strokeDash": "independent"}, "legend": {"color": "independent", "strokeWidth": "independent", "strokeDash": "independent"}},
  "hconcat": [
  {"width": 368, "height": 219, "data": {"name": "tafel_menge"},
   "view": {"stroke": null},
   "layer": [
    {"mark": {"type": "line", "interpolate": "monotone"},
     "encoding": {
      "x": {"field": "woche", "type": "quantitative", "scale": {"domain": [0, 51], "nice": false, "zero": false, "range": [22, 368]}, "axis": {"values": [0,4,8,12,16,20,24,28,32,36,40,44,48], "labelExpr": "datum.value <= 20 ? datum.value + 32 : datum.value - 20", "title": "Wöchentliche Absatzmenge", "titleX": 206, "titleY": -237, "titleAlign": "center", "titleBaseline": "alphabetic"}},
      "y": {"field": "wert", "type": "quantitative", "scale": {"domain": [0, 5000], "nice": false}, "axis": {"values": [0,500,1000,1500,2000,2500,3000,3500,4000,4500,5000], "labelExpr": "replace(format(datum.value, ','), ',', '.')", "offset": -22, "title": "in t", "titleAngle": 0, "titleX": -47, "titleY": -18, "titleAlign": "left", "titleBaseline": "alphabetic"}},
      "color": {"field": "saison", "type": "nominal", "scale": {"domain": ["2016/17","2015/16","2014/15"], "range": ["black","black","#a5a5a5"]}, "legend": {"title": null, "orient": "none", "legendX": 174, "legendY": 141}},
      "strokeWidth": {"field": "saison", "type": "nominal", "scale": {"domain": ["2016/17","2015/16","2014/15"], "range": [5, 2.5, 2.5]}, "legend": {"title": null, "orient": "none", "legendX": 174, "legendY": 141}},
      "strokeDash": {"field": "saison", "type": "nominal", "scale": {"domain": ["2016/17","2015/16","2014/15"], "range": [[1,0],[1,0],[7,4]]}, "legend": {"title": null, "orient": "none", "legendX": 174, "legendY": 141}}
     }},
    {"mark": {"type": "line", "opacity": 0},
     "encoding": {
      "x": {"field": "woche", "type": "quantitative", "axis": {"orient": "top", "labels": false, "ticks": false, "grid": false, "domainWidth": 1, "title": null}},
      "y": {"field": "wert", "type": "quantitative", "axis": {"orient": "right", "labels": false, "ticks": false, "grid": false, "domainWidth": 1, "title": null}}
     }}
   ],
   "resolve": {"axis": {"x": "independent", "y": "independent"}}
  },
  {"width": 359, "height": 219, "data": {"name": "cox_menge"},
   "mark": {"type": "line", "interpolate": "monotone"},
   "encoding": {
    "x": {"field": "woche", "type": "quantitative", "scale": {"domain": [0, 51], "nice": false, "zero": false}, "axis": {"values": [0,4,8,12,16,20,24,28,32,36,40,44,48], "labelExpr": "datum.value <= 20 ? datum.value + 32 : datum.value - 20", "title": "Wöchentliche Absatzmenge", "titleX": 196, "titleY": -236, "titleAlign": "center", "titleBaseline": "alphabetic"}},
    "y": {"field": "wert", "type": "quantitative", "scale": {"domain": [0, 100], "nice": false}, "axis": {"values": [0,10,20,30,40,50,60,70,80,90,100], "title": "in t", "titleAngle": 0, "titleX": -30, "titleY": -17, "titleAlign": "left", "titleBaseline": "alphabetic"}},
    "color": {"field": "saison", "type": "nominal", "scale": {"domain": ["2016/17","2015/16","2014/15"], "range": ["black","black","#a5a5a5"]}, "legend": {"title": null, "orient": "none", "legendX": 246, "legendY": 21}},
    "strokeWidth": {"field": "saison", "type": "nominal", "scale": {"domain": ["2016/17","2015/16","2014/15"], "range": [5, 2.5, 2.5]}, "legend": {"title": null, "orient": "none", "legendX": 246, "legendY": 21}},
    "strokeDash": {"field": "saison", "type": "nominal", "scale": {"domain": ["2016/17","2015/16","2014/15"], "range": [[1,0],[1,0],[7,4]]}, "legend": {"title": null, "orient": "none", "legendX": 246, "legendY": 21}}
   }},
  {"width": 358, "height": 219, "data": {"name": "conf_menge"},
   "title": {"text": "Quelle: LEL Schwäbisch Gmünd", "orient": "bottom", "anchor": "end", "frame": "group", "dx": 26, "offset": 13, "font": "Lato", "fontSize": 20, "fontWeight": "normal", "fontStyle": "italic", "color": "black"},
   "mark": {"type": "line", "interpolate": "monotone"},
   "encoding": {
    "x": {"field": "woche", "type": "quantitative", "scale": {"domain": [0, 51], "nice": false, "zero": false}, "axis": {"values": [0,4,8,12,16,20,24,28,32,36,40,44,48], "labelExpr": "datum.value <= 20 ? datum.value + 32 : datum.value - 20", "title": "Wöchentliche Absatzmenge", "titleX": 197, "titleY": -236, "titleAlign": "center", "titleBaseline": "alphabetic"}},
    "y": {"field": "wert", "type": "quantitative", "scale": {"domain": [0, 120], "nice": false}, "axis": {"values": [0,20,40,60,80,100,120], "title": "in t", "titleAngle": 0, "titleX": -30, "titleY": -17, "titleAlign": "left", "titleBaseline": "alphabetic"}},
    "color": {"field": "saison", "type": "nominal", "scale": {"domain": ["2016/17","2015/16","2014/15"], "range": ["black","black","#a5a5a5"]}, "legend": {"title": null, "orient": "none", "legendX": 247, "legendY": 22}},
    "strokeWidth": {"field": "saison", "type": "nominal", "scale": {"domain": ["2016/17","2015/16","2014/15"], "range": [5, 2.5, 2.5]}, "legend": {"title": null, "orient": "none", "legendX": 247, "legendY": 22}},
    "strokeDash": {"field": "saison", "type": "nominal", "scale": {"domain": ["2016/17","2015/16","2014/15"], "range": [[1,0],[1,0],[7,4]]}, "legend": {"title": null, "orient": "none", "legendX": 247, "legendY": 22}}
   }}
 ]}
]
}
